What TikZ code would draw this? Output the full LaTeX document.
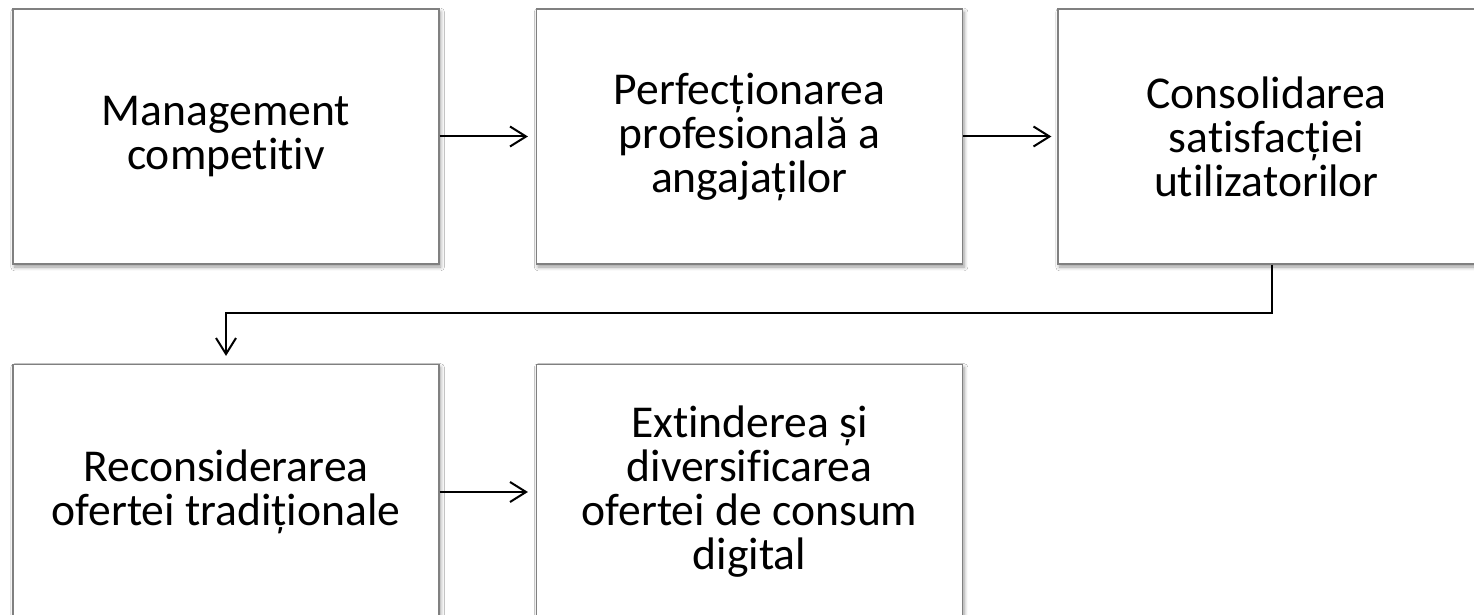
\documentclass[tikz,border=0pt]{standalone}
\usepackage{fontspec}
\setmainfont{Carlito}[Ligatures=NoCommon]
\usetikzlibrary{arrows.meta,shadows.blur}
\tikzset{
  box/.style={draw=black!50, line width=0.6pt, fill=white, minimum width=213pt, minimum height=127.5pt,
    align=center, font=\fontsize{22.8}{22}\selectfont, inner sep=0pt,
    blur shadow={shadow xshift=0.8pt, shadow yshift=-1.5pt, shadow blur steps=6, shadow opacity=40}},
  arr/.style={line width=1pt, -{Straight Barb[length=8pt,width=10pt,line width=1pt]}}
}
\begin{document}
\begin{tikzpicture}[x=0.5pt,y=-0.5pt]
\useasboundingbox (0,0) rectangle (1474,615);
\fill[white] (0,0) rectangle (1474,615);
\clip (0,0) rectangle (1474,615);
\node[box] (a) at (226,136.5) {Management\\competitiv};
\node[box] (b) at (749.5,136.5) {Perfecționarea\\profesională a\\angajaților};
\node[box, minimum width=208.5pt] (c) at (1266.5,136.5) {Consolidarea\\satisfacției\\utilizatorilor};
\node[box] (d) at (226,492) {Reconsiderarea\\ofertei tradiționale};
\node[box] (e) at (749.5,492) {Extinderea și\\diversificarea\\ofertei de consum\\digital};
\draw[arr, shorten >=4pt] (a) -- (b);
\draw[arr, shorten >=3pt] (b) -- (c);
\coordinate (turn) at (1272,313);
\draw[arr, shorten >=4pt] (c.south -| turn) -- (turn) -| (d.north);
\draw[arr, shorten >=4pt] (d) -- (e);
\end{tikzpicture}
\end{document}
